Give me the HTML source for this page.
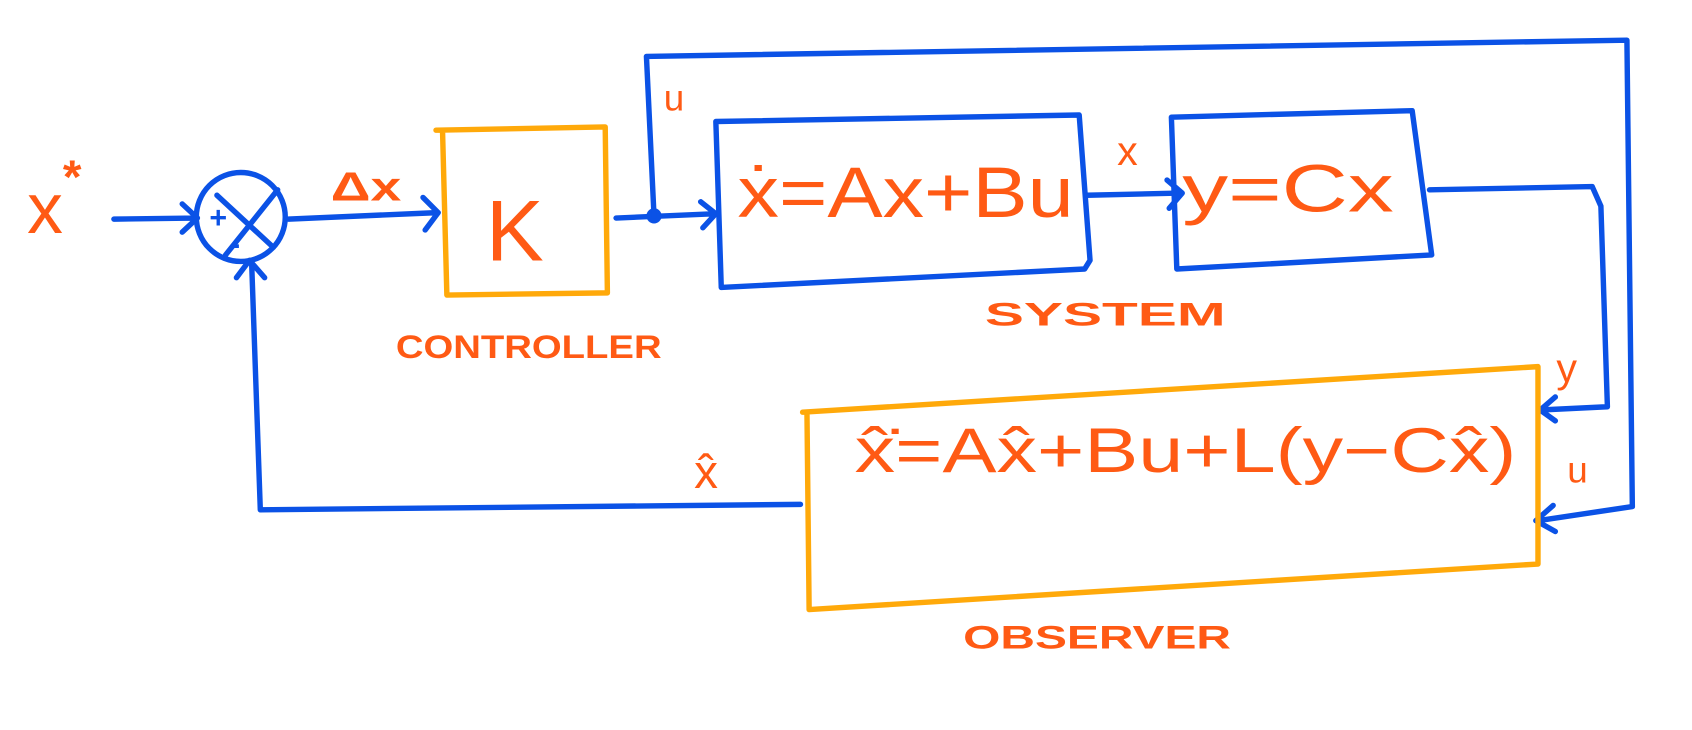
<!DOCTYPE html>
<html><head><meta charset="utf-8"><style>
html,body{margin:0;padding:0;background:#fff;}
svg{display:block}
text{font-family:"Liberation Sans",sans-serif;fill:#ff5a14;}
.b{stroke:#0b52e6;stroke-width:5;fill:none;stroke-linecap:round;stroke-linejoin:round}
.o{stroke:#ffa90a;stroke-width:5;fill:none;stroke-linecap:round;stroke-linejoin:round}
.lbl{font-weight:bold;font-size:30px}
</style></head><body>
<svg width="1692" height="730" viewBox="0 0 1560 673">
<text x="25" y="215" font-size="66">x</text>
<text x="58" y="178" font-size="44" font-weight="bold">*</text>
<path class="b" d="M105 202 L180 201 M168 188 L182 201 L168 214"/>
<g>
<circle class="b" cx="222" cy="200" r="41"/>
<path class="b" d="M200 180 L252 228 M256 175 L208 235"/>
<text x="193" y="210" font-size="28" font-weight="bold" style="fill:#0b52e6">+</text>
<text x="212" y="234" font-size="28" font-weight="bold" style="fill:#0b52e6">-</text>
</g>
<text x="305" y="185" font-size="38" font-weight="bold" textLength="65" lengthAdjust="spacingAndGlyphs">Δx</text>
<path class="b" d="M266 202 L403 196 M390 182 L404 196 L392 212"/>
<path class="o" d="M402 120 L558 117 L560 270 L412 272 L408 120"/>
<text x="448" y="240" font-size="80">K</text>
<text x="365" y="330" class="lbl" textLength="245" lengthAdjust="spacingAndGlyphs">CONTROLLER</text>
<path class="b" d="M568 201 L660 197 M646 186 L660 197 L648 210"/>
<circle cx="603" cy="199" r="7" fill="#0b52e6"/>
<path class="b" d="M603 199 L596 52 L1500 37 L1505 467 L1418 480 M1432 466 L1416 480 L1434 490"/>
<text x="612" y="102" font-size="34">u</text>
<path class="b" d="M660 112 L995 106 L1005 240 L1000 248 L665 265 Z"/>
<text x="680" y="200" font-size="66" textLength="310" lengthAdjust="spacingAndGlyphs">ẋ=Ax+Bu</text>
<path class="b" d="M1002 180 L1088 178 M1076 166 L1090 178 L1078 192"/>
<text x="1030" y="152" font-size="38">x</text>
<path class="b" d="M1080 108 L1302 102 L1320 235 L1085 248 Z"/>
<text x="1090" y="195" font-size="62" textLength="195" lengthAdjust="spacingAndGlyphs">y=Cx</text>
<text x="908" y="300" class="lbl" textLength="222" lengthAdjust="spacingAndGlyphs">SYSTEM</text>
<path class="b" d="M1318 175 L1468 172 L1476 190 L1482 375 L1420 378 M1434 366 L1420 378 L1434 388"/>
<text x="1435" y="352" font-size="38">y</text>
<text x="1445" y="445" font-size="34">u</text>
<path class="o" d="M740 380 L1418 338 L1418 520 L746 562 L744 380"/>
<text x="788" y="435" font-size="58" textLength="610" lengthAdjust="spacingAndGlyphs">x̂̇=Ax̂+Bu+L(y−Cx̂)</text>
<text x="888" y="598" class="lbl" textLength="247" lengthAdjust="spacingAndGlyphs">OBSERVER</text>
<text x="640" y="450" font-size="44">x̂</text>
<path class="b" d="M738 465 L240 470 L232 242 M218 256 L230 240 L244 256"/>
</svg>
</body></html>
